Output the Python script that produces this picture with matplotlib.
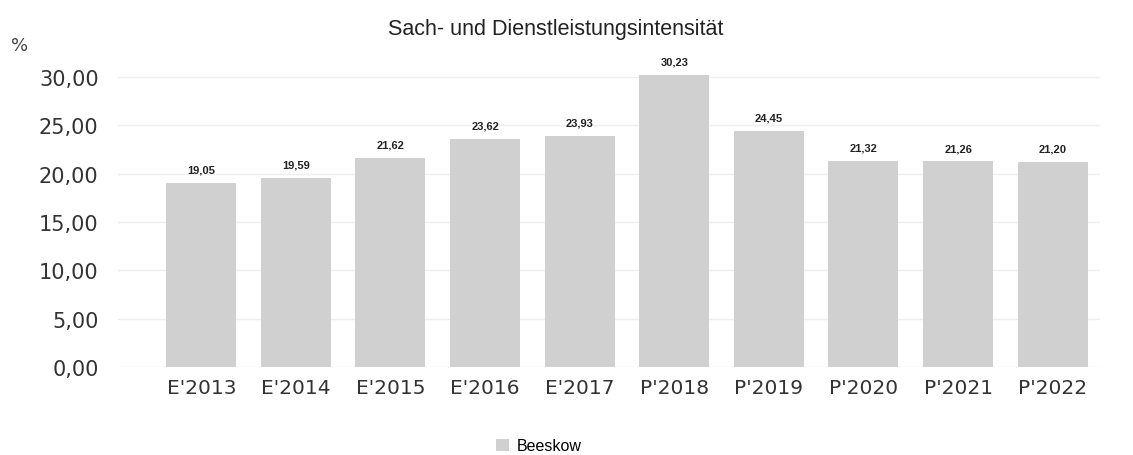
import matplotlib
matplotlib.use("Agg")
import matplotlib.pyplot as plt
from matplotlib.patches import Patch

categories = ["E'2013", "E'2014", "E'2015", "E'2016", "E'2017",
              "P'2018", "P'2019", "P'2020", "P'2021", "P'2022"]
values = [19.05, 19.59, 21.62, 23.62, 23.93, 30.23, 24.45, 21.32, 21.26, 21.20]
yticks = [0, 5, 10, 15, 20, 25, 30]
series_name = "Beeskow"
title = "Sach- und Dienstleistungsintensität"

bar_color = "#d0d0d0"

fig = plt.figure(figsize=(11.33, 4.56), dpi=100)
ax = fig.add_axes([118/1133, 1 - 368/456, (1100 - 118)/1133, (368 - 63)/456])

x = list(range(len(categories)))
ax.bar(x, values, width=0.74, color=bar_color, edgecolor="none", zorder=2)

for xi, v in zip(x, values):
    ax.annotate(f"{v:.2f}".replace(".", ","), (xi, v), xytext=(0, 6),
                textcoords="offset points", ha="center", va="bottom",
                fontsize=8, fontweight="bold", family="Liberation Sans",
                color="#222222")

ax.set_ylim(0, 30 * (368 - 63) / 290)
ax.set_xlim(-0.88, 9.5)
ax.set_yticks(yticks)
ax.set_yticklabels([f"{t:.2f}".replace(".", ",") for t in yticks],
                   fontsize=15, color="#333333")
ax.set_xticks(x)
ax.set_xticklabels(categories, fontsize=14.5, color="#333333")
ax.tick_params(axis="both", length=0)
ax.tick_params(axis="y", pad=14)
ax.tick_params(axis="x", pad=8)
ax.grid(axis="y", color="#efefef", linewidth=1, zorder=0)
for s in ax.spines.values():
    s.set_visible(False)

fig.text(556/1133, 1 - 30/456, title, ha="center", va="center",
         fontsize=15.5, family="Liberation Sans", color="#222222")
fig.text(11/1133, 1 - 46/456, "%", ha="left", va="center",
         fontsize=13, family="DejaVu Sans", color="#444444")

fig.legend(handles=[Patch(facecolor=bar_color, edgecolor="none", label=series_name)],
           loc="center", bbox_to_anchor=(539/1133, 1 - 447/456), frameon=False,
           prop={"family": "Liberation Sans", "size": 11.5},
           handlelength=0.8, handleheight=0.8, handletextpad=0.5)

fig.savefig("out.png", dpi=100)
